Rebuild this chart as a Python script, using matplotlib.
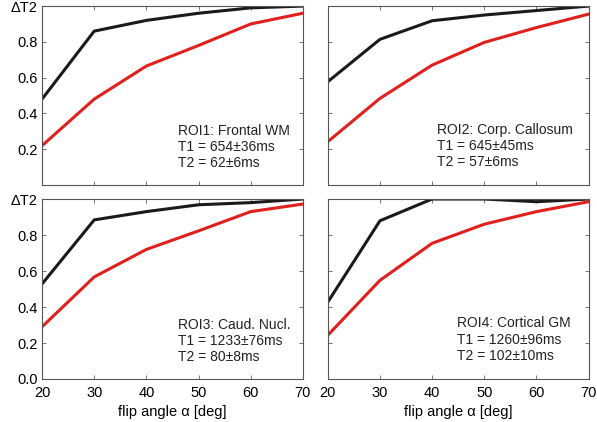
import numpy as np
import matplotlib
matplotlib.use("Agg")
import matplotlib.pyplot as plt

plt.rcParams["font.family"] = ["Liberation Sans", "DejaVu Sans"]

# -----------------------------
# Data
# -----------------------------
flip_angle = [20, 30, 40, 50, 60, 70]

roi1_black = [0.48, 0.86, 0.92, 0.96, 0.99, 1.00]
roi1_red = [0.22, 0.48, 0.665, 0.78, 0.90, 0.96]

roi2_black = [0.577, 0.814, 0.918, 0.95, 0.975, 1.00]
roi2_red = [0.242, 0.484, 0.67, 0.797, 0.88, 0.955]

roi3_black = [0.528, 0.884, 0.93, 0.968, 0.98, 1.00]
roi3_red = [0.29, 0.567, 0.72, 0.823, 0.93, 0.972]

roi4_black = [0.427, 0.879, 1.00, 1.00, 0.985, 1.00]
roi4_red = [0.243, 0.548, 0.754, 0.86, 0.93, 0.985]

roi_labels = [
    "ROI1: Frontal WM\nT1 = 654\u00b136ms\nT2 = 62\u00b16ms",
    "ROI2: Corp. Callosum\nT1 = 645\u00b145ms\nT2 = 57\u00b16ms",
    "ROI3: Caud. Nucl.\nT1 = 1233\u00b176ms\nT2 = 80\u00b18ms",
    "ROI4: Cortical GM\nT1 = 1260\u00b196ms\nT2 = 102\u00b110ms",
]
label_x = [46, 41, 46, 44.7]
label_y = [0.212, 0.218, 0.211, 0.219]

y_ticks = [0.0, 0.2, 0.4, 0.6, 0.8, 1.0]
x_ticks = [20, 30, 40, 50, 60, 70]

blacks = [roi1_black, roi2_black, roi3_black, roi4_black]
reds = [roi1_red, roi2_red, roi3_red, roi4_red]

# -----------------------------
# Figure
# -----------------------------
fig = plt.figure(figsize=(5.97, 4.22), dpi=100)

positions = [
    [0.0704, 0.5616, 0.437, 0.424],
    [0.549, 0.5616, 0.437, 0.424],
    [0.0704, 0.1019, 0.437, 0.4265],
    [0.549, 0.1019, 0.437, 0.4265],
]

for i, pos in enumerate(positions):
    ax = fig.add_axes(pos)
    ax.plot(flip_angle, blacks[i], color="#1a1a1a", lw=2.2)
    ax.plot(flip_angle, reds[i], color="#e0201c", lw=2.2)
    ax.set_xlim(20, 70)
    ax.set_ylim(0, 1.0)
    ax.set_xticks(x_ticks)
    ax.set_yticks(y_ticks)
    ax.tick_params(direction="in", top=True, right=True, length=3,
                   width=0.6, color="#606060", labelsize=10.5)
    ax.tick_params(axis="x", pad=5)
    ax.tick_params(axis="y", pad=3)
    for s in ax.spines.values():
        s.set_color("#555555")
        s.set_linewidth(0.8)

    left = i in (0, 2)
    bottom = i in (2, 3)
    if left:
        labels = ["0.0", "0.2", "0.4", "0.6", "0.8", "\u0394T2"]
        if not bottom:
            labels[0] = ""
        ax.set_yticklabels(labels)
    else:
        ax.set_yticklabels([])
    if bottom:
        ax.set_xticklabels([str(v) for v in x_ticks])
        ax.set_xlabel("flip angle \u03b1 [deg]", fontsize=10.5, labelpad=4)
    else:
        ax.set_xticklabels([])

    ax.text(label_x[i], label_y[i], roi_labels[i], fontsize=10,
            va="center", ha="left", color="#222222", linespacing=1.2)

plt.savefig("out.png", dpi=100)
plt.close()
